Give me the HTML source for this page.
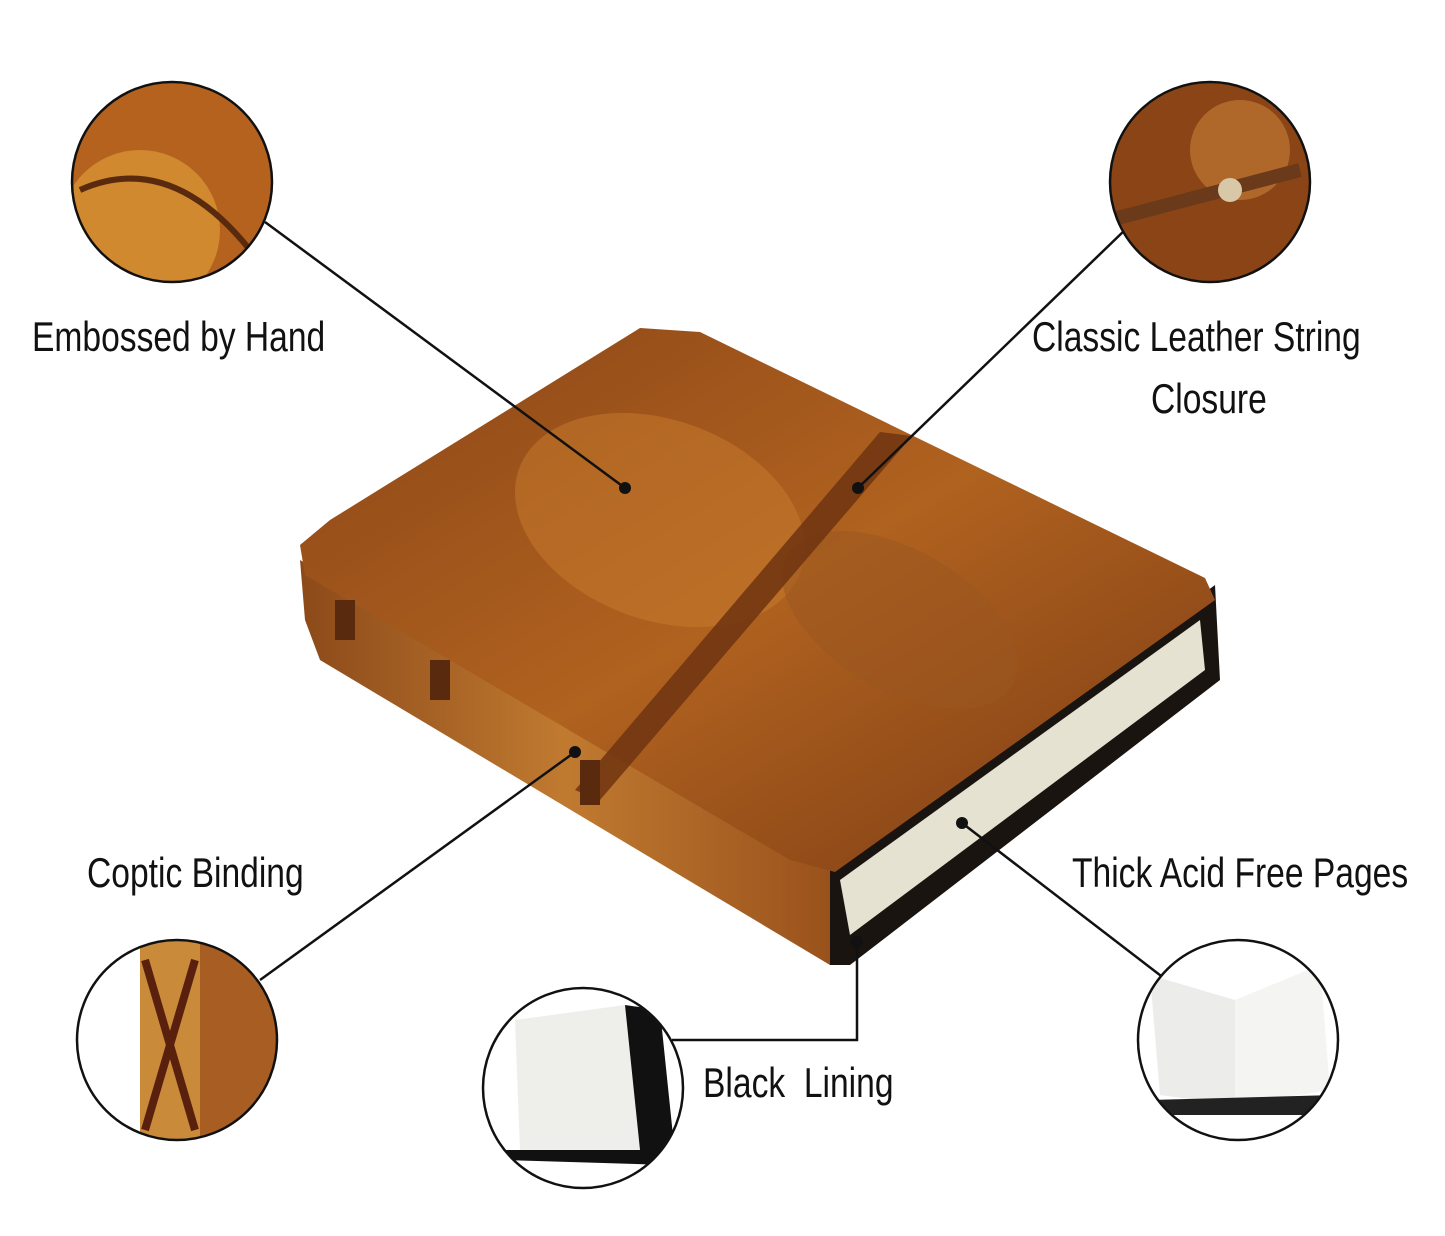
<!DOCTYPE html>
<html><head><meta charset="utf-8">
<style>
html,body{margin:0;padding:0;background:#fff;}
#c{position:relative;width:1445px;height:1236px;overflow:hidden;background:#fff;}
.t{position:absolute;font-family:"Liberation Sans Narrow","Liberation Sans",sans-serif;font-size:42px;color:#111;white-space:nowrap;line-height:1;transform:scaleX(0.8);transform-origin:0 0;}
svg{position:absolute;left:0;top:0;}
</style></head><body><div id="c">
<svg width="1445" height="1236" viewBox="0 0 1445 1236">
<defs>
<linearGradient id="cov" x1="0" y1="0" x2="1" y2="1">
<stop offset="0" stop-color="#8a4517"/><stop offset="0.5" stop-color="#b0621f"/><stop offset="1" stop-color="#7a3a14"/></linearGradient>
<linearGradient id="sp" x1="0" y1="0" x2="1" y2="0">
<stop offset="0" stop-color="#8c4a1a"/><stop offset="0.5" stop-color="#c07a30"/><stop offset="1" stop-color="#9a521c"/></linearGradient>
<clipPath id="c1"><circle cx="172" cy="182" r="99"/></clipPath>
<clipPath id="c2"><circle cx="1210" cy="182" r="99"/></clipPath>
<clipPath id="c3"><circle cx="177" cy="1040" r="99"/></clipPath>
<clipPath id="c4"><circle cx="583" cy="1088" r="99"/></clipPath>
<clipPath id="c5"><circle cx="1238" cy="1040" r="99"/></clipPath>
</defs>
<polygon points="300,560 830,870 830,965 320,660 305,620" fill="url(#sp)"/>
<polygon points="830,870 1215,585 1220,680 850,965 830,965" fill="#1a1410"/>
<polygon points="840,880 1200,620 1205,670 850,935" fill="#e6e2d2"/>
<polygon points="640,328 700,332 1205,578 1215,600 835,872 790,860 305,575 300,545 330,520" fill="url(#cov)"/>
<ellipse cx="660" cy="520" rx="150" ry="100" fill="#c77c2e" opacity="0.5" transform="rotate(20 660 520)"/>
<ellipse cx="900" cy="620" rx="130" ry="70" fill="#9a5520" opacity="0.5" transform="rotate(30 900 620)"/>
<polygon points="880,432 912,436 600,800 575,790" fill="#6e3410" opacity="0.85"/>
<g fill="#5a2a0e"><rect x="335" y="600" width="20" height="40"/><rect x="430" y="660" width="20" height="40"/><rect x="580" y="760" width="20" height="45"/></g>
<g stroke="#111" stroke-width="2.5" fill="none">
<line x1="265" y1="222" x2="625" y2="488"/>
<line x1="1127" y1="228" x2="858" y2="488"/>
<line x1="260" y1="980" x2="575" y2="752"/>
<line x1="962" y1="823" x2="1238" y2="1035"/>
<polyline points="857,942 857,1040 672,1040"/>
</g>
<g fill="#111"><circle cx="625" cy="488" r="6"/><circle cx="858" cy="488" r="6"/><circle cx="575" cy="752" r="6"/><circle cx="962" cy="823" r="6"/><circle cx="857" cy="942" r="6"/></g>
<g clip-path="url(#c1)"><rect x="70" y="80" width="210" height="210" fill="#b5621f"/><circle cx="140" cy="230" r="80" fill="#d0892f"/><path d="M80,190 Q170,150 250,250" stroke="#5a2a0e" stroke-width="6" fill="none"/></g>
<g clip-path="url(#c2)"><rect x="1110" y="80" width="210" height="210" fill="#8a4416"/><circle cx="1240" cy="150" r="50" fill="#b0682a"/><path d="M1110,220 L1300,170" stroke="#6a3a1a" stroke-width="14"/><circle cx="1230" cy="190" r="12" fill="#d8c8a8"/></g>
<g clip-path="url(#c3)"><rect x="75" y="940" width="210" height="210" fill="#fff"/><rect x="140" y="940" width="60" height="210" fill="#c98a3a"/><rect x="200" y="940" width="90" height="210" fill="#a85d22"/><path d="M145,960 L195,1130 M195,960 L145,1130" stroke="#5a200e" stroke-width="8"/></g>
<g clip-path="url(#c4)"><rect x="480" y="985" width="210" height="210" fill="#fff"/><polygon points="515,1020 625,1005 640,1150 520,1150" fill="#eeeeea"/><polygon points="625,1005 660,1010 675,1155 640,1150" fill="#111"/><polygon points="505,1150 675,1150 670,1165 505,1160" fill="#111"/></g>
<g clip-path="url(#c5)"><rect x="1135" y="940" width="210" height="210" fill="#fff"/><polygon points="1150,975 1235,1000 1235,1105 1160,1095" fill="#ececea"/><polygon points="1235,1000 1320,965 1330,1090 1235,1105" fill="#f4f4f2"/><polygon points="1150,1100 1335,1095 1335,1115 1150,1115" fill="#222"/></g>
<g fill="none" stroke="#111" stroke-width="2.5">
<circle cx="172" cy="182" r="100"/><circle cx="1210" cy="182" r="100"/><circle cx="177" cy="1040" r="100"/><circle cx="583" cy="1088" r="100"/><circle cx="1238" cy="1040" r="100"/>
</g>
</svg>
<div class="t" style="left:32px;top:316px;">Embossed by Hand</div>
<div class="t" style="left:1032px;top:316px;">Classic Leather String</div>
<div class="t" style="left:1151px;top:378px;">Closure</div>
<div class="t" style="left:87px;top:852px;">Coptic Binding</div>
<div class="t" style="left:1072px;top:852px;">Thick Acid Free Pages</div>
<div class="t" style="left:703px;top:1062px;">Black&nbsp; Lining</div>
</div></body></html>
